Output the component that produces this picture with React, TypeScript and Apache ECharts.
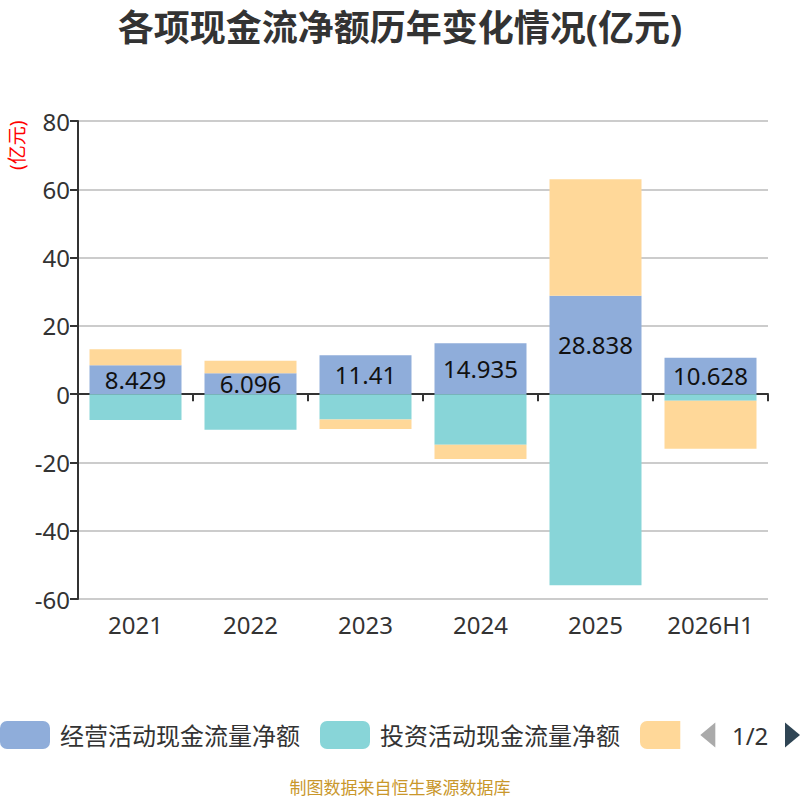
import React, { useEffect, useRef } from "react";
import * as echarts from "echarts";

const categories = ["2021", "2022", "2023", "2024", "2025", "2026H1"];
const operating = [8.429, 6.096, 11.41, 14.935, 28.838, 10.628];
const investing = [-7.6, -10.4, -7.45, -14.8, -56.0, -1.9];
const financing = [4.7, 3.7, -2.75, -4.2, 34.1, -14.1];
const seriesNames = ["经营活动现金流量净额", "投资活动现金流量净额", "筹资活动现金流量净额"];
const colors = ["#8FADDA", "#88D5D8", "#FFD899"];

const FONT = "'Noto Sans', 'Noto Sans CJK SC', sans-serif";

export default function App() {
  const ref = useRef<HTMLDivElement>(null);
  useEffect(() => {
    document.body.style.margin = "0";
    if (!ref.current) return;
    const chart = echarts.init(ref.current, undefined, { renderer: "svg" });
    const values = [operating, investing, financing];
    chart.setOption({
      animation: false,
      textStyle: { fontFamily: FONT },
      color: colors,
      title: {
        text: "各项现金流净额历年变化情况(亿元)",
        left: "center",
        top: 4,
        textStyle: { fontSize: 36, fontWeight: "bold", color: "#333", fontFamily: FONT },
      },
      graphic: [
        {
          type: "text",
          x: 7,
          y: 170,
          rotation: Math.PI / 2,
          style: { text: "(亿元)", fill: "#ff0000", fontSize: 19, fontFamily: FONT },
        },
        {
          type: "text",
          left: "center",
          top: 779,
          style: { text: "制图数据来自恒生聚源数据库", fill: "#C9972B", fontSize: 17, fontFamily: FONT },
        },
      ],
      legend: {
        type: "scroll",
        left: 0,
        right: 2,
        top: 721,
        padding: 0,
        itemWidth: 50,
        itemHeight: 28,
        itemGap: 20,
        data: seriesNames,
        textStyle: { fontSize: 24, color: "#333", fontFamily: FONT, padding: [0, 0, 0, 5] },
        pageIconSize: [15, 30],
        pageIconColor: "#2f4554",
        pageIconInactiveColor: "#aaa",
        pageTextStyle: { fontSize: 24, color: "#333", fontFamily: FONT },
      },
      grid: { left: 78, right: 32, top: 121, bottom: 201, containLabel: false },
      xAxis: [
        {
          type: "category",
          data: categories,
          position: "bottom",
          axisLine: { show: false, onZero: false },
          axisTick: { show: false },
          axisLabel: { fontSize: 24, color: "#333", margin: 13, fontFamily: FONT },
        },
        {
          type: "category",
          data: categories,
          position: "bottom",
          axisLine: { show: true, onZero: true, lineStyle: { color: "#333", width: 2 } },
          axisTick: { show: true, length: 7, lineStyle: { color: "#333", width: 2 } },
          axisLabel: { show: false },
        },
      ],
      yAxis: {
        type: "value",
        min: -60,
        max: 80,
        interval: 20,
        axisLine: { show: true, lineStyle: { color: "#333", width: 2 } },
        axisTick: { show: true, length: 8, lineStyle: { color: "#333", width: 2 } },
        axisLabel: { fontSize: 24, color: "#333", margin: 8, fontFamily: FONT },
        splitLine: { lineStyle: { color: "#ccc", width: 2 } },
      },
      series: seriesNames.map((name, i) => ({
        name,
        type: "bar",
        stack: "total",
        barWidth: "80%",
        data: values[i],
        itemStyle: { color: colors[i] },
        label:
          i === 0
            ? { show: true, position: "inside", fontSize: 24, color: "#111", fontFamily: FONT }
            : { show: false },
      })),
    });
    return () => chart.dispose();
  }, []);
  return <div ref={ref} style={{ width: 800, height: 800 }} />;
}
